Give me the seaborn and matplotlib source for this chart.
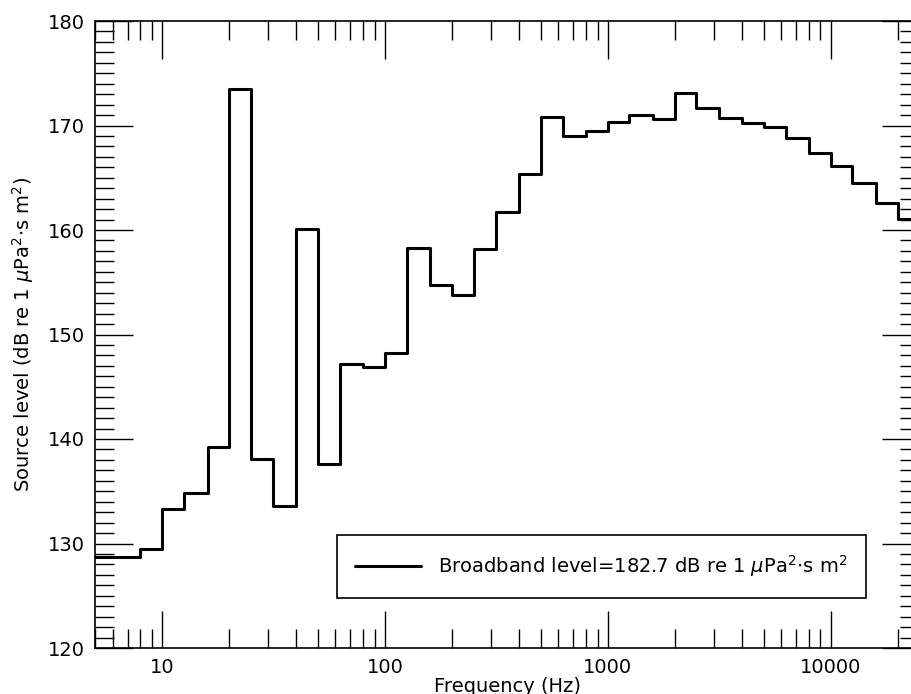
import numpy as np
import pandas as pd
import matplotlib
matplotlib.use('Agg')
import matplotlib.pyplot as plt
import seaborn as sns
from matplotlib.ticker import FixedLocator, FixedFormatter, LogLocator, MultipleLocator, NullFormatter

# 1/3-octave band edges (nominal frequencies, Hz)
band_edges = [5, 6.3, 8, 10, 12.5, 16, 20, 25, 31.5, 40, 50, 63, 80, 100,
              125, 160, 200, 250, 315, 400, 500, 630, 800, 1000, 1250, 1600,
              2000, 2500, 3150, 4000, 5000, 6300, 8000, 10000, 12500, 16000,
              20000, 25000]

# band source levels (dB re 1 uPa^2 s m^2)
band_levels = [128.7, 128.7, 129.45, 133.3, 134.8, 139.2, 173.5, 138.1, 133.6,
               160.1, 137.6, 147.2, 146.9, 148.2, 158.3, 154.7, 153.8, 158.2,
               161.7, 165.4, 170.8, 169.0, 169.5, 170.3, 171.0, 170.6, 173.1,
               171.7, 170.7, 170.2, 169.9, 168.8, 167.4, 166.1, 164.5, 162.6,
               161.1]

broadband_level = 182.7
x_ticks = [10, 100, 1000, 10000]
x_tick_labels = ['10', '100', '1000', '10000']
y_ticks = [120, 130, 140, 150, 160, 170, 180]

sns.set_style('ticks')
plt.rcParams['font.family'] = ['DejaVu Sans']
plt.rcParams['mathtext.fontset'] = 'dejavusans'
plt.rcParams['text.color'] = 'black'
plt.rcParams['axes.labelcolor'] = 'black'

FS = 14

# step data: last level held until the upper band edge
df = pd.DataFrame({'freq': band_edges,
                   'level': band_levels + [band_levels[-1]]})

fig = plt.figure(figsize=(9.12, 6.94), dpi=100)
ax = fig.add_axes([95 / 912, 46 / 694, 824.3 / 912, 627 / 694])

label = (f'Broadband level={broadband_level} dB re 1 '
         r'$\mu$Pa$^{2}$$\cdot$s m$^{2}$')
sns.lineplot(data=df, x='freq', y='level', ax=ax, color='black',
             linewidth=2.2, drawstyle='steps-post', label=label)

ax.set_xscale('log')
ax.set_xlim(5, 25000)
ax.set_ylim(120, 180)

ax.xaxis.set_major_locator(FixedLocator(x_ticks))
ax.xaxis.set_major_formatter(FixedFormatter(x_tick_labels))
ax.xaxis.set_minor_locator(LogLocator(base=10, subs=np.arange(2, 10)))
ax.xaxis.set_minor_formatter(NullFormatter())
ax.yaxis.set_major_locator(FixedLocator(y_ticks))
ax.yaxis.set_minor_locator(MultipleLocator(1))

ax.tick_params(which='both', direction='in', top=True, right=True,
               labelsize=FS, color='black', labelcolor='black')
ax.tick_params(which='major', length=27, width=1, pad=7)
ax.tick_params(which='minor', length=13.5, width=1)
for s in ax.spines.values():
    s.set_linewidth(1.2)
    s.set_color('black')

ax.set_xlabel('Frequency (Hz)', fontsize=FS, labelpad=0)
ax.set_ylabel(r'Source level (dB re 1 $\mu$Pa$^{2}$$\cdot$s m$^{2}$)',
              fontsize=FS, labelpad=9)

leg = ax.legend(loc='lower right', bbox_to_anchor=(0.935, 0.08),
                fontsize=FS, frameon=True, fancybox=False, framealpha=1,
                edgecolor='black', borderpad=0.95, handlelength=3.4,
                handletextpad=0.85, borderaxespad=0)
leg.get_frame().set_linewidth(1.2)

fig.savefig('out.png', dpi=100)
